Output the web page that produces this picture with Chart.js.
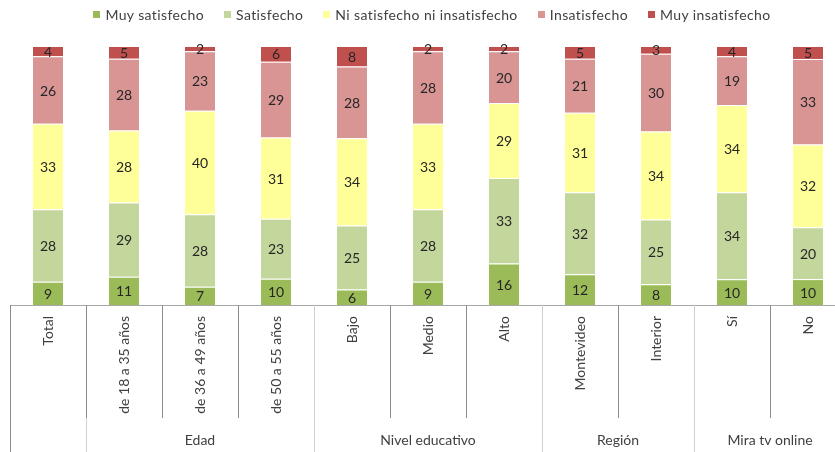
<!DOCTYPE html>
<html>
<head>
<meta charset="utf-8">
<script src="https://cdn.jsdelivr.net/npm/chart.js@4/dist/chart.umd.min.js"></script>
<style>
  html, body { margin: 0; padding: 0; background: #fff; overflow: hidden; }
  #wrap { position: relative; width: 835px; height: 452px; overflow: hidden; }
  #legend {
    position: absolute; top: 6px; left: 0; width: 864px;
    display: flex; justify-content: center;
    font: 14px Lato, sans-serif; color: #404040; letter-spacing: 0.4px;
  }
  #legend .item { display: flex; align-items: center; margin: 0 10px; }
  #legend .box { width: 7px; height: 7px; margin-right: 5px; }
  canvas { position: absolute; top: 0; left: 0; }
</style>
</head>
<body>
<div id="wrap">
  <canvas id="chart" width="848" height="452"></canvas>
  <div id="legend"></div>
</div>
<script>
// Satisfacción por segmento (porcentajes)
const categories = ['Total', 'de 18 a 35 años', 'de 36 a 49 años', 'de 50 a 55 años',
  'Bajo', 'Medio', 'Alto', 'Montevideo', 'Interior', 'Sí', 'No'];
const groupNames = ['', 'Edad', 'Nivel educativo', 'Región', 'Mira tv online'];
const groupSizes = [1, 3, 3, 2, 2];

const seriesNames = ['Muy satisfecho', 'Satisfecho', 'Ni satisfecho ni insatisfecho', 'Insatisfecho', 'Muy insatisfecho'];
const muySatisfecho   = [9, 11, 7, 10, 6, 9, 16, 12, 8, 10, 10];
const satisfecho      = [28, 29, 28, 23, 25, 28, 33, 32, 25, 34, 20];
const niNi            = [33, 28, 40, 31, 34, 33, 29, 31, 34, 34, 32];
const insatisfecho    = [26, 28, 23, 29, 28, 28, 20, 21, 30, 19, 33];
const muyInsatisfecho = [4, 5, 2, 6, 8, 2, 2, 5, 3, 4, 5];
const colors = ['#9bbb59', '#c3d69b', '#ffff99', '#d99594', '#c0504d'];

const raw = [muySatisfecho, satisfecho, niNi, insatisfecho, muyInsatisfecho];
const FONT = 'Lato, sans-serif';

// 100% stacked: each column is scaled to its own total
const totals = categories.map((_, i) => raw.reduce((s, arr) => s + arr[i], 0));
const datasets = raw.map((arr, k) => ({
  label: seriesNames[k],
  data: arr.map((v, i) => v / totals[i] * 100),
  rawValues: arr,
  backgroundColor: colors[k],
  borderColor: 'rgba(255,255,255,0.5)',
  borderWidth: { top: 1, bottom: 0, left: 0, right: 0 },
  borderSkipped: false,
  barPercentage: 0.395,
  categoryPercentage: 1
}));

// legend above the plot
const legendEl = document.getElementById('legend');
datasets.forEach(ds => {
  const item = document.createElement('div');
  item.className = 'item';
  item.innerHTML = `<span class="box" style="background:${ds.backgroundColor}"></span>${ds.label}`;
  legendEl.appendChild(item);
});

// value labels inside each segment
const segmentLabels = {
  id: 'segmentLabels',
  afterDatasetsDraw(chart) {
    const ctx = chart.ctx;
    ctx.save();
    ctx.font = '14px ' + FONT;
    ctx.fillStyle = '#262626';
    ctx.textAlign = 'center';
    ctx.textBaseline = 'middle';
    chart.data.datasets.forEach((ds, k) => {
      chart.getDatasetMeta(k).data.forEach((bar, i) => {
        const y = (bar.y + bar.base) / 2;
        ctx.fillText(String(ds.rawValues[i]), bar.x, y + 1);
      });
    });
    ctx.restore();
  }
};

// category separators and group labels under the axis
const groupAxis = {
  id: 'groupAxis',
  afterDraw(chart) {
    const ctx = chart.ctx;
    const x = chart.scales.x;
    const axisY = chart.chartArea.bottom;
    const bottom = chart.height;
    const cw = (x.right - x.left) / categories.length;
    const rowY = axisY + 113;

    ctx.save();
    ctx.lineWidth = 1;

    // left edge
    ctx.strokeStyle = '#8c8c8c';
    ctx.beginPath();
    ctx.moveTo(x.left + 0.5, axisY);
    ctx.lineTo(x.left + 0.5, bottom);
    ctx.stroke();

    // boundaries between categories
    const groupEnds = [];
    let acc = 0;
    groupSizes.forEach(n => { acc += n; groupEnds.push(acc); });
    for (let i = 1; i < categories.length; i++) {
      const px = Math.round(x.left + cw * i) + 0.5;
      const isGroupEdge = groupEnds.includes(i);
      if (isGroupEdge) {
        ctx.strokeStyle = '#cfcfcf';
        ctx.beginPath();
        ctx.moveTo(px, axisY);
        ctx.lineTo(px, bottom);
        ctx.stroke();
      }
      if (!isGroupEdge || i === 1) {
        ctx.strokeStyle = '#8c8c8c';
        ctx.beginPath();
        ctx.moveTo(px, axisY);
        ctx.lineTo(px, rowY);
        ctx.stroke();
      }
    }

    // group names centred under their columns
    ctx.font = '14px ' + FONT;
    ctx.fillStyle = '#404040';
    ctx.textAlign = 'center';
    ctx.textBaseline = 'middle';
    let start = 0;
    groupSizes.forEach((n, g) => {
      const cx = x.left + cw * (start + n / 2);
      if (groupNames[g]) ctx.fillText(groupNames[g], cx, axisY + 135);
      start += n;
    });
    ctx.restore();
  }
};

new Chart(document.getElementById('chart'), {
  type: 'bar',
  data: { labels: categories, datasets },
  options: {
    responsive: false,
    animation: false,
    layout: { padding: { left: 10, right: 2, top: 46, bottom: 0 } },
    plugins: { legend: { display: false }, tooltip: { enabled: false } },
    scales: {
      x: {
        stacked: true,
        grid: { display: false, drawTicks: false },
        border: { display: true, color: '#a6a6a6' },
        ticks: {
          minRotation: 90, maxRotation: 90, autoSkip: false,
          padding: 11, color: '#404040',
          font: { family: FONT, size: 14 }
        },
        afterFit(scale) { scale.height = 147; }
      },
      y: {
        stacked: true, display: false, min: 0, max: 100
      }
    }
  },
  plugins: [segmentLabels, groupAxis]
});
</script>
</body>
</html>
